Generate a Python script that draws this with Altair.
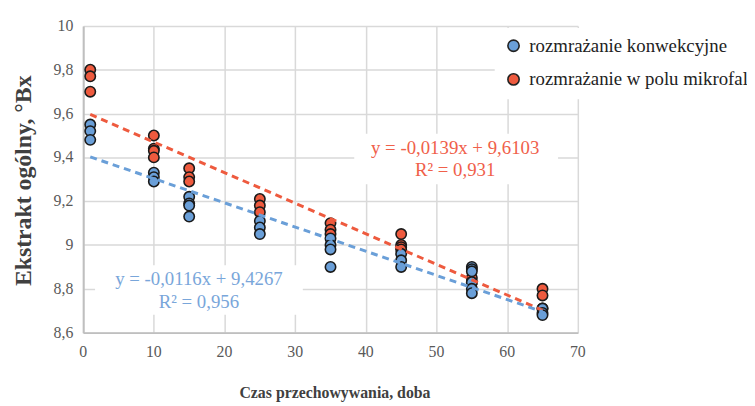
import altair as alt
import pandas as pd

series_names = ["rozmrażanie konwekcyjne", "rozmrażanie w polu mikrofal"]

blue_x = [1, 1, 1, 10, 10, 10, 15, 15, 15, 15, 25, 25, 25, 35, 35, 35, 35,
          45, 45, 45, 55, 55, 55, 55, 55, 55, 65, 65, 65]
blue_y = [9.55, 9.52, 9.48, 9.33, 9.31, 9.29, 9.22, 9.19, 9.18, 9.13,
          9.11, 9.08, 9.05, 9.03, 9.00, 8.98, 8.90, 8.96, 8.93, 8.90,
          8.90, 8.89, 8.88, 8.83, 8.80, 8.78, 8.71, 8.69, 8.68]

red_x = [1, 1, 1, 10, 10, 10, 10, 15, 15, 15, 25, 25, 25, 35, 35, 35,
         45, 45, 45, 45, 55, 55, 65, 65, 65]
red_y = [9.80, 9.77, 9.70, 9.50, 9.44, 9.43, 9.40, 9.35, 9.31, 9.29,
         9.21, 9.18, 9.15, 9.10, 9.07, 9.05, 9.05, 9.00, 8.99, 8.98,
         8.85, 8.83, 8.80, 8.77, 8.71]

eq_red = ["y = -0,0139x + 9,6103", "R² = 0,931"]
eq_blue = ["y = -0,0116x + 9,4267", "R² = 0,956"]

x_ticks = [0, 10, 20, 30, 40, 50, 60, 70]
x_labels = ["0", "10", "20", "30", "40", "50", "60", "70"]
y_ticks = [8.6, 8.8, 9.0, 9.2, 9.4, 9.6, 9.8, 10.0]
y_labels = ["8,6", "8,8", "9", "9,2", "9,4", "9,6", "9,8", "10"]

BLUE = "#6A9FD8"
RED = "#EE5A3E"
BLUE_T = "#79A6DA"
RED_T = "#F0604A"

df = pd.concat([
    pd.DataFrame({"x": red_x, "y": red_y, "s": series_names[1], "o": 0}),
    pd.DataFrame({"x": blue_x, "y": blue_y, "s": series_names[0], "o": 1}),
], ignore_index=True)

serif = "Liberation Serif"

xscale = alt.Scale(domain=[0, 70], nice=False)
yscale = alt.Scale(domain=[8.6, 10], nice=False, zero=False)
color = alt.Color("s:N", scale=alt.Scale(domain=series_names, range=[BLUE, RED]), legend=None)

xaxis = alt.Axis(values=x_ticks, title="Czas przechowywania, doba", grid=True,
                 gridColor="#D9D9D9", gridWidth=1.5, domainColor="#BFBFBF", domainWidth=2,
                 ticks=False, labels=False,
                 titleFont=serif, titleFontSize=16, titleFontWeight="bold",
                 titleColor="#404040", titleY=66, titleX=254, titleBaseline="alphabetic")
yaxis = alt.Axis(values=y_ticks, title="Ekstrakt ogólny, °Bx", grid=True,
                 gridColor="#D9D9D9", gridWidth=1.5, domainColor="#BFBFBF", domainWidth=2,
                 ticks=False, labels=False,
                 titleFont=serif, titleFontSize=24, titleFontWeight="bold",
                 titleColor="#404040", titleX=-60, titleY=156, titleAngle=270,
                 titleAlign="center", titleBaseline="middle")

points = alt.Chart(df).mark_circle(size=110, opacity=1, stroke="#1a1a1a", strokeWidth=1.6).encode(
    x=alt.X("x:Q", scale=xscale, axis=xaxis),
    y=alt.Y("y:Q", scale=yscale, axis=yaxis),
    color=color,
    order=alt.Order("o:Q"),
)

xlab = alt.Chart(pd.DataFrame({"v": x_ticks, "t": x_labels})).mark_text(
    font=serif, fontSize=16, color="#595959", baseline="middle", align="center"
).encode(x=alt.X("v:Q", scale=xscale), y=alt.value(330), text="t:N")

ylab = alt.Chart(pd.DataFrame({"v": y_ticks, "t": y_labels})).mark_text(
    font=serif, fontSize=16, color="#595959", baseline="middle", align="right"
).encode(y=alt.Y("v:Q", scale=yscale), x=alt.value(-10), text="t:N")

def trend(name, col):
    return alt.Chart(df).transform_filter(alt.datum.s == name).transform_regression(
        "x", "y", extent=[1, 65]
    ).mark_line(color=col, strokeWidth=3, strokeDash=[7, 5]).encode(
        x=alt.X("x:Q", scale=xscale), y=alt.Y("y:Q", scale=yscale)
    )

def box(x1, x2, y1, y2):
    return alt.Chart(pd.DataFrame({"a": [0]})).mark_rect(color="white").encode(
        x=alt.value(x1), x2=alt.value(x2), y=alt.value(y1), y2=alt.value(y2))

def line_text(txt, cx, cy, col, align="center", size=19):
    return alt.Chart(pd.DataFrame({"t": [txt]})).mark_text(
        font=serif, fontSize=size, color=col, baseline="middle", align=align
    ).encode(text="t:N", x=alt.value(cx), y=alt.value(cy))

def legend_dot(cx, cy, col):
    return alt.Chart(pd.DataFrame({"a": [0]})).mark_circle(
        size=130, opacity=1, color=col, stroke="#222222", strokeWidth=1.6
    ).encode(x=alt.value(cx), y=alt.value(cy))

chart = alt.layer(
    box(274, 480, 109, 160), box(12, 222, 242, 292), box(416, 673, 2, 74),
    points, trend(series_names[1], RED), trend(series_names[0], BLUE),
    xlab, ylab,
    line_text(eq_red[0], 376, 123, RED_T), line_text(eq_red[1], 376, 146, RED_T),
    line_text(eq_blue[0], 117, 256, BLUE_T), line_text(eq_blue[1], 117, 279, BLUE_T),
    legend_dot(435, 20, BLUE), legend_dot(435, 54, RED),
    line_text(series_names[0], 451, 20, "#222222", align="left", size=19),
    line_text(series_names[1], 451, 54, "#222222", align="left", size=19),
).properties(
    width=500, height=310,
    autosize=alt.AutoSizeParams(type="none"),
    padding={"left": 76, "top": 16, "right": 171, "bottom": 72},
).configure(background="white", font=serif).configure_view(stroke=None)

chart.save("out.html", embed_options={"renderer": "svg", "actions": False})
